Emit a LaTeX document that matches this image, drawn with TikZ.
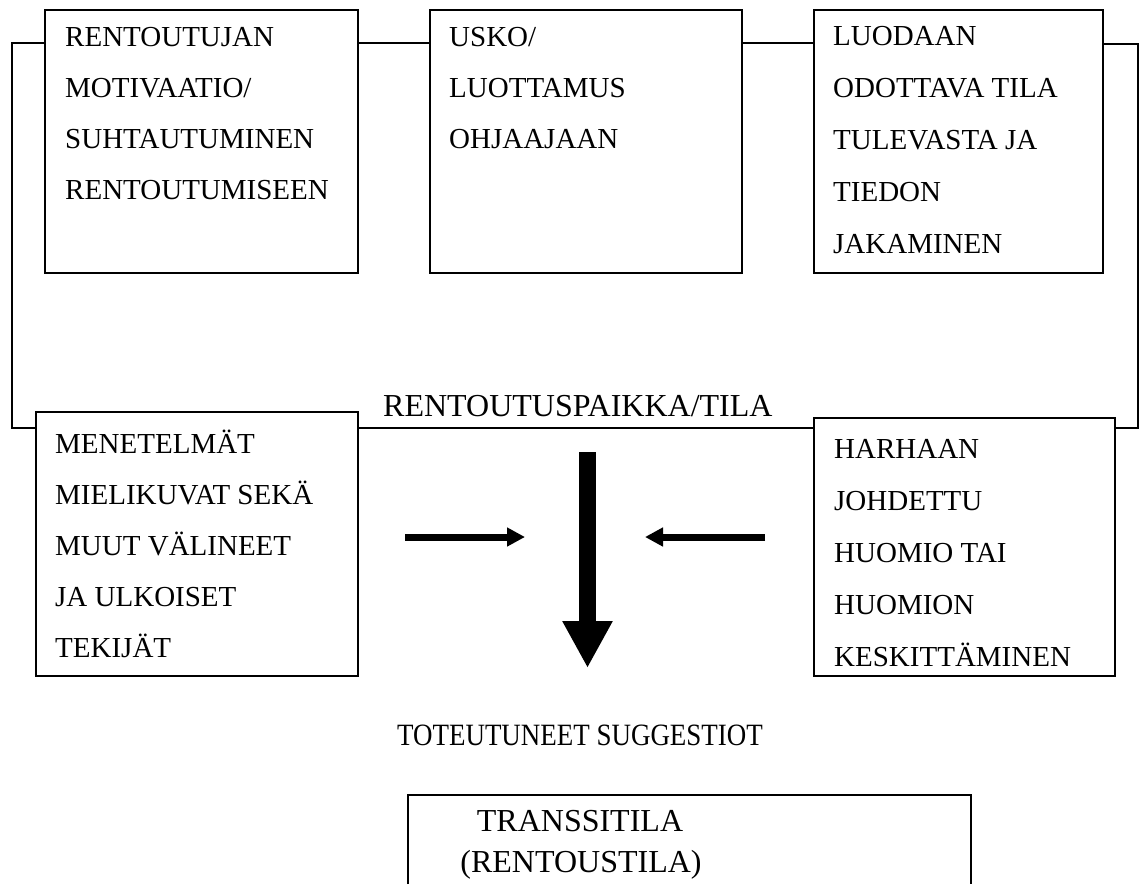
\documentclass[tikz,border=0pt]{standalone}
\usepackage{fontspec}
\setmainfont{Liberation Serif}
\usetikzlibrary{arrows.meta}
\begin{document}
\begin{tikzpicture}[x=1pt,y=-1pt,
  box/.style={draw, line width=1.6pt, inner sep=0pt, anchor=north west},
  txt/.style={anchor=north west, inner sep=0pt, align=left, font=\fontsize{29}{#1}\selectfont},
  txt/.default=51,
  big/.style={inner sep=0pt, font=\fontsize{32}{40}\selectfont},
  link/.style={line width=1.5pt},
  fat/.style={line width=7pt, -{Triangle[length=18pt,width=18pt]}},
  huge/.style={line width=17pt, -{Triangle[length=47pt,width=47pt]}}]
\useasboundingbox (0,0) rectangle (1140,884);

% top row boxes
\node[box, minimum width=313pt, minimum height=263pt] (b1) at (44,9) {};
\node[box, minimum width=312pt, minimum height=263pt] (b2) at (429,9) {};
\node[box, minimum width=289pt, minimum height=263pt] (b3) at (813,9) {};
% lower row boxes
\node[box, minimum width=322pt, minimum height=264pt] (b4) at (35,411) {};
\node[box, minimum width=301pt, minimum height=258pt] (b5) at (813,417) {};

% box texts
\node[txt] (t1) at (65,27.5) {RENTOUTUJAN\\MOTIVAATIO/\\SUHTAUTUMINEN\\RENTOUTUMISEEN};
\node[txt] (t2) at (449,27.5) {USKO/\\LUOTTAMUS\\OHJAAJAAN};
\node[txt=52] (t3) at (833,26) {LUODAAN\\ODOTTAVA TILA\\TULEVASTA JA\\TIEDON\\JAKAMINEN};
\node[txt] (t4) at (55,429.5) {MENETELMÄT\\MIELIKUVAT SEKÄ\\MUUT VÄLINEET\\JA ULKOISET\\TEKIJÄT};
\node[txt=52] (t5) at (834,439) {HARHAAN\\JOHDETTU\\HUOMIO TAI\\HUOMION\\KESKITTÄMINEN};

% frame corners
\coordinate (cl1) at (12,43);
\coordinate (cl2) at (12,428);
\coordinate (cr1) at (1138,44);
\coordinate (cr2) at (1138,428);

% connectors
\draw[link] (b1.east |- 0,43) -- (b2.west |- 0,43);
\draw[link] (b2.east |- 0,43) -- (b3.west |- 0,43);
\draw[link] (b1.west |- 0,43) -- (cl1) -- (cl2) -- (b4.west |- 0,428);
\draw[link] (b3.east |- 0,44) -- (cr1) -- (cr2) -- (b5.east |- 0,428);
\draw[link] (b4.east |- 0,428) -- (b5.west |- 0,428);

% labels
\node[big, anchor=base west] (place) at (383,416) {RENTOUTUSPAIKKA/TILA};
\node[inner sep=0pt, anchor=base, font=\fontsize{31}{36}\selectfont] (sugg) at (580,745.5) {\scalebox{0.87}[1]{TOTEUTUNEET SUGGESTIOT}};

% arrows
\coordinate (la1) at (405,537);
\coordinate (la2) at (525,537);
\coordinate (ra1) at (765,537);
\coordinate (ra2) at (645,537);
\coordinate (da1) at (587.5,452);
\coordinate (da2) at (587.5,668);
\draw[fat] (la1) -- (la2);
\draw[fat] (ra1) -- (ra2);
\draw[huge] (da1) -- (da2);

% bottom box (open at the bottom edge of the picture)
\coordinate (bb1) at (408,884);
\coordinate (bb2) at (408,795);
\coordinate (bb3) at (971,795);
\coordinate (bb4) at (971,884);
\draw[line width=1.6pt] (bb1) -- (bb2) -- (bb3) -- (bb4);
\node[big, anchor=base] (trans) at (580,831) {TRANSSITILA};
\node[big, anchor=base] (rent) at (581,872) {(RENTOUSTILA)};
\end{tikzpicture}
\end{document}
